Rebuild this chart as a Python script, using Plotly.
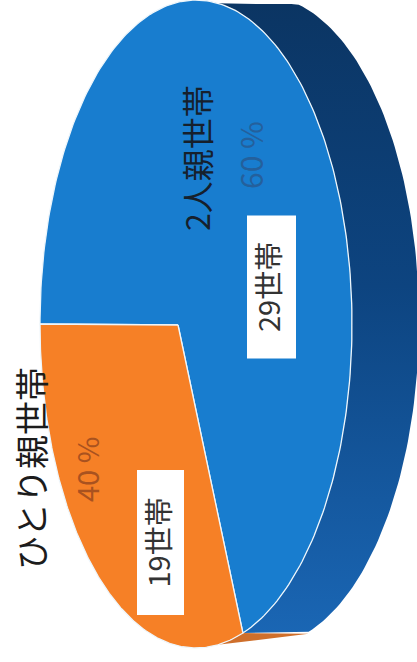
import numpy as np
import plotly.graph_objects as go

categories = ["2人親世帯", "ひとり親世帯"]
shares = [60, 40]
households = [29, 19]

# Geometry of the tilted pie (drawn area is a 417x662 plot in pixel units)
CX, CY, RX, RY = 196, 324, 156, 324
APEX = (178, 325)
SHIFT_X, SIDE_CY, SIDE_RY = 67, 321, 325
SIDE_TOP = 4
START_DEG = 180
PERSPECTIVE = 1.169  # foreshortening of the sweep in the tilted view

blue, orange = "#187dcf", "#f68026"


def arc(t0, t1, cx=CX, cy=CY, rx=RX, ry=RY, n=120):
    t = np.radians(np.linspace(t0, t1, n))
    return cx + rx * np.cos(t), cy - ry * np.sin(t)


split = START_DEG - shares[0] / 100 * 360 * PERSPECTIVE
fig = go.Figure()

# side wall, blue part
fx, fy = arc(82, split)
sx, sy = arc(92, -73, CX + SHIFT_X, SIDE_CY, RX, SIDE_RY)
sy = np.maximum(sy, SIDE_TOP)
fig.add_trace(go.Scatter(
    x=np.r_[fx, sx[::-1]], y=np.r_[fy, sy[::-1]], mode="lines", fill="toself",
    line=dict(width=0, color="#0c3a6c"),
    fillgradient=dict(type="vertical", colorscale=[[0, "#1a66b4"], [0.55, "#0d4480"], [1, "#0b3563"]]),
    hoverinfo="skip", showlegend=False))

# side wall, orange part
fx, fy = arc(split, -82, n=30)
fig.add_trace(go.Scatter(
    x=np.r_[fx, sx[-1], fx[0]], y=np.r_[fy, sy[-1] + 2, fy[0]], mode="lines", fill="toself",
    line=dict(width=0, color="#cf6f2b"), fillcolor="#cf6f2b",
    hoverinfo="skip", showlegend=False))

# top faces
for (t0, t1), col, name in [((START_DEG, split), blue, categories[0]),
                            ((split, START_DEG - 360), orange, categories[1])]:
    ax, ay = arc(t0, t1, n=240)
    fig.add_trace(go.Scatter(
        x=np.r_[APEX[0], ax, APEX[0]], y=np.r_[APEX[1], ay, APEX[1]], mode="lines",
        fill="toself", fillcolor=col, line=dict(width=1.3, color="#eef6fb"),
        name=name, hoverinfo="skip", showlegend=False))

font = "Noto Sans CJK JP"
label_pos = [(196, 158, 32, "#16202c"), (30, 469, 34, "#1c1c1c")]
pct_pos = [(250, 155, 30, "#24609c"), (86, 470, 29, "#a9521f")]
box_pos = [(271.5, 287, 49, 143), (160.5, 542.5, 47, 145)]
count_x = [267, 156]

annotations, shapes = [], []
for i in range(2):
    x, y, size, col = label_pos[i]
    annotations.append(dict(x=x, y=y, text=categories[i], textangle=-90, showarrow=False,
                            font=dict(family=font, size=size, color=col)))
    x, y, size, col = pct_pos[i]
    annotations.append(dict(x=x, y=y, text=f"{shares[i]} %", textangle=-90, showarrow=False,
                            font=dict(family=font, size=size, color=col)))
    x, y, w, h = box_pos[i]
    shapes.append(dict(type="rect", x0=x - w / 2, x1=x + w / 2, y0=y - h / 2, y1=y + h / 2,
                       fillcolor="white", line=dict(width=0), layer="above"))
    annotations.append(dict(x=count_x[i], y=y, text=f"{households[i]}世帯", textangle=-90, showarrow=False,
                            font=dict(family=font, size=29, color="#333333")))

fig.update_layout(
    width=417, height=662, margin=dict(l=0, r=0, t=0, b=0),
    paper_bgcolor="white", plot_bgcolor="white", showlegend=False,
    xaxis=dict(range=[0, 417], visible=False, fixedrange=True),
    yaxis=dict(range=[662, 0], visible=False, fixedrange=True),
    annotations=annotations, shapes=shapes,
)
fig.write_html("out.html", config=dict(displayModeBar=False),
               post_script="document.body.style.margin='0';document.documentElement.style.overflow='hidden';")
